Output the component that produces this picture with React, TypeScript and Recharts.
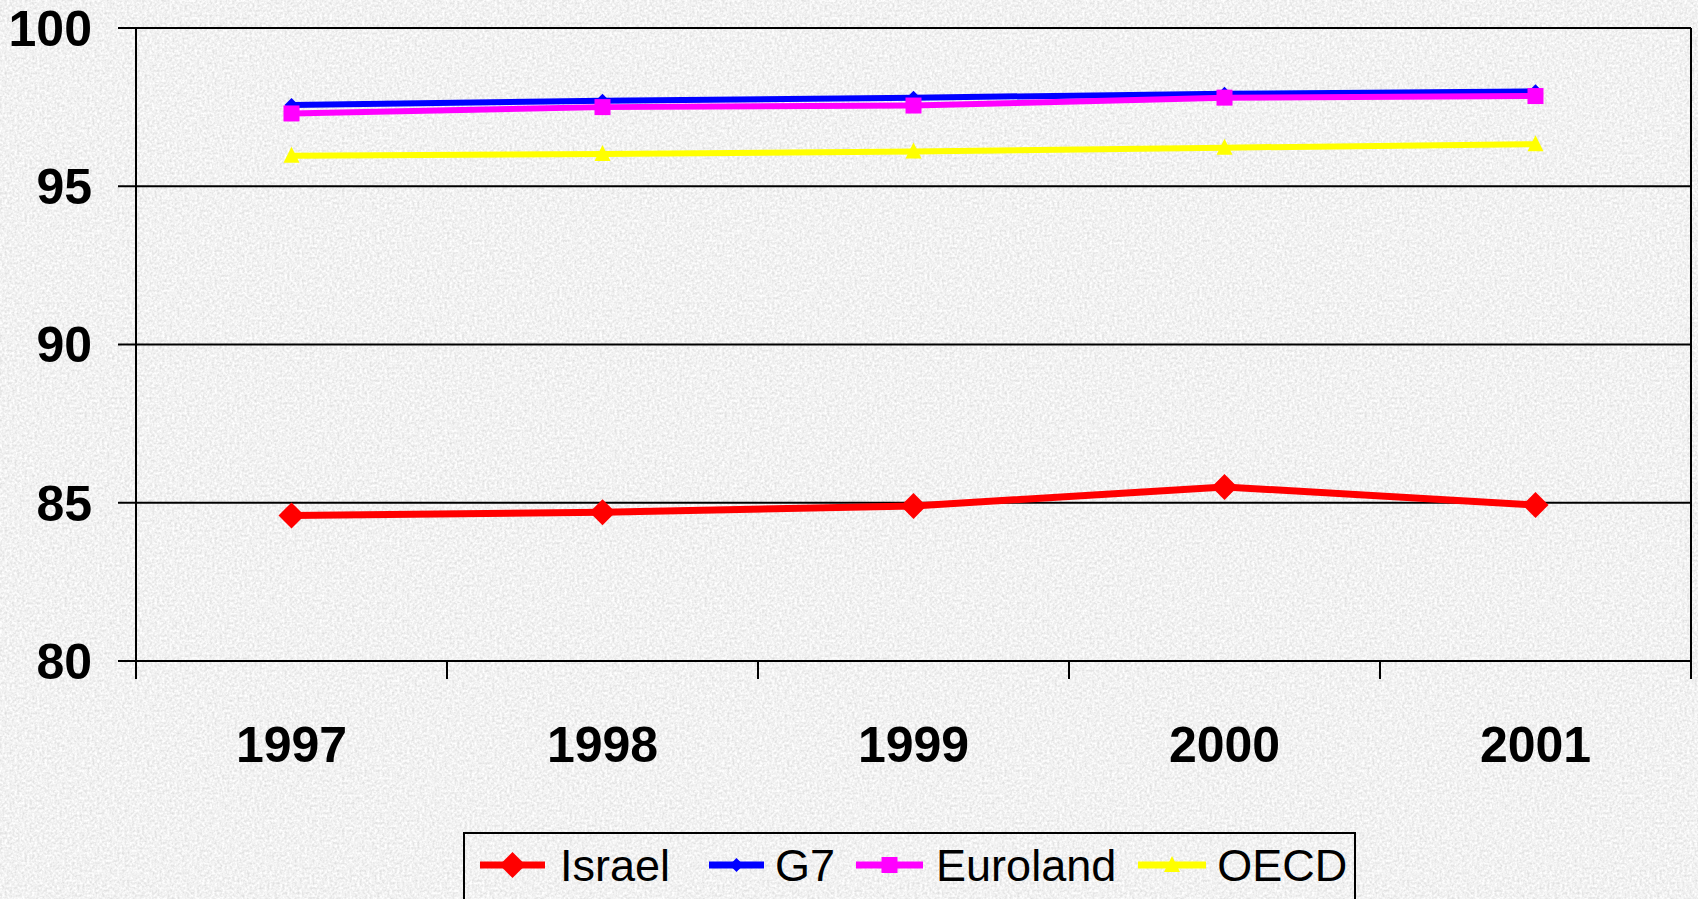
import React from "react";
import {
  LineChart, Line, XAxis, YAxis, CartesianGrid, Legend
} from "recharts";

const years = ["1997", "1998", "1999", "2000", "2001"];
const israel = [84.6, 84.7, 84.9, 85.5, 84.93];
const g7 = [97.57, 97.7, 97.8, 97.92, 98.0];
const euroland = [97.3, 97.5, 97.55, 97.8, 97.85];
const oecd = [95.96, 96.02, 96.1, 96.22, 96.33];
const yTicks = [80, 85, 90, 95, 100];

const data = years.map((year, i) => ({
  year,
  Israel: israel[i],
  G7: g7[i],
  Euroland: euroland[i],
  OECD: oecd[i],
}));

const W = 1698;
const H = 899;
const PLOT_LEFT = 136;
const PLOT_RIGHT = 1691;
const BAND = (PLOT_RIGHT - PLOT_LEFT) / years.length;
const FONT = '"Liberation Sans", Arial, sans-serif';

// Excel-style category ticks sit between the bands, not under the labels
const XTick = (props: any) => {
  const { x, y, payload, index } = props;
  const half = BAND / 2;
  return (
    <g>
      <line x1={x - half} x2={x - half} y1={y} y2={y + 18} stroke="#000" strokeWidth={2} />
      {index === years.length - 1 && (
        <line x1={x + half} x2={x + half} y1={y} y2={y + 18} stroke="#000" strokeWidth={2} />
      )}
      <text x={x} y={y + 84} textAnchor="middle" dominantBaseline="central"
        fontFamily={FONT} fontWeight="bold" fontSize={50} fill="#000">
        {payload.value}
      </text>
    </g>
  );
};

const diamond = (cx: number, cy: number, r: number) =>
  `M${cx},${cy - r}L${cx + r},${cy}L${cx},${cy + r}L${cx - r},${cy}Z`;

const BigDiamond = (p: any) => (
  <path key={`d-${p.index}`} d={diamond(p.cx, p.cy, 13)} fill="#ff0000" />
);
const SmallDiamond = (p: any) => (
  <path key={`s-${p.index}`} d={diamond(p.cx, p.cy, 7)} fill="#0000ff" />
);
const Square = (p: any) => (
  <rect key={`q-${p.index}`} x={p.cx - 8} y={p.cy - 8} width={16} height={16} fill="#ff00ff" />
);
const Triangle = (p: any) => (
  <path key={`t-${p.index}`}
    d={`M${p.cx},${p.cy - 9}L${p.cx + 8},${p.cy + 7}L${p.cx - 8},${p.cy + 7}Z`} fill="#ffff00" />
);

const legendItems = [
  { name: "Israel", color: "#ff0000", marker: "bigDiamond", icon: 65, pad: 15, gap: 39 },
  { name: "G7", color: "#0000ff", marker: "smallDiamond", icon: 55, pad: 11, gap: 21 },
  { name: "Euroland", color: "#ff00ff", marker: "square", icon: 67, pad: 13, gap: 22 },
  { name: "OECD", color: "#ffff00", marker: "triangle", icon: 68, pad: 11, gap: 0 },
];

const LegendIcon = ({ color, marker, w }: { color: string; marker: string; w: number }) => {
  const c = w / 2;
  return (
    <svg width={w} height={34} style={{ display: "block" }}>
      <line x1={0} x2={w} y1={17} y2={17} stroke={color} strokeWidth={7} />
      {marker === "bigDiamond" && <path d={diamond(c, 17, 13)} fill={color} />}
      {marker === "smallDiamond" && <path d={diamond(c, 17, 7)} fill={color} />}
      {marker === "square" && <rect x={c - 8} y={9} width={16} height={16} fill={color} />}
      {marker === "triangle" && <path d={`M${c},8L${c + 8},24L${c - 8},24Z`} fill={color} />}
    </svg>
  );
};

const renderLegend = () => (
  <div style={{
    boxSizing: "border-box", width: 893, height: 80, border: "2px solid #000",
    display: "flex", alignItems: "center", paddingLeft: 15, paddingBottom: 14,
    fontFamily: FONT, fontSize: 45, color: "#000", whiteSpace: "nowrap",
  }}>
    {legendItems.map((it) => (
      <div key={it.name} style={{ display: "flex", alignItems: "center", marginRight: it.gap }}>
        <LegendIcon color={it.color} marker={it.marker} w={it.icon} />
        <span style={{ marginLeft: it.pad, lineHeight: 1 }}>{it.name}</span>
      </div>
    ))}
  </div>
);

const Grain = () => (
  <svg width={W} height={H} style={{ position: "absolute", left: 0, top: 0 }}>
    <filter id="grain">
      <feTurbulence type="fractalNoise" baseFrequency="0.4" numOctaves={2} seed={4} />
      <feColorMatrix type="matrix"
        values="0.45 0 0 0 0.66  0.45 0 0 0 0.66  0.45 0 0 0 0.66  0 0 0 0 1" />
    </filter>
    <rect width={W} height={H} fill="#e4e4e4" />
    <rect width={W} height={H} filter="url(#grain)" />
  </svg>
);

export default function App() {
  return (
    <div style={{ position: "absolute", left: 0, top: 0, width: W, height: H, overflow: "hidden" }}>
      <Grain />
      <div style={{ position: "absolute", left: 0, top: 0 }}>
        <LineChart width={W} height={H} data={data}
          margin={{ top: 28, right: W - PLOT_RIGHT, left: 0, bottom: 88 }}>
          <CartesianGrid stroke="#000" strokeWidth={2}
            verticalCoordinatesGenerator={({ offset }: any) => [offset.left + offset.width]} />
          <XAxis dataKey="year" scale="band" height={150} interval={0}
            axisLine={{ stroke: "#000", strokeWidth: 2 }} tickLine={false}
            tickSize={0} tickMargin={0} tick={<XTick />} />
          <YAxis domain={[80, 100]} ticks={yTicks} width={PLOT_LEFT} interval={0}
            axisLine={{ stroke: "#000", strokeWidth: 2 }}
            tickLine={{ stroke: "#000", strokeWidth: 2 }} tickSize={18} tickMargin={26}
            tick={{ fontFamily: FONT, fontWeight: "bold", fontSize: 50, fill: "#000" }} />
          <Legend layout="horizontal" verticalAlign="middle" align="center"
            wrapperStyle={{ left: 463, top: 832, width: 893, height: 80 }}
            content={renderLegend} />
          <Line dataKey="Israel" stroke="#ff0000" strokeWidth={7} dot={BigDiamond}
            isAnimationActive={false} />
          <Line dataKey="G7" stroke="#0000ff" strokeWidth={6} dot={SmallDiamond}
            isAnimationActive={false} />
          <Line dataKey="Euroland" stroke="#ff00ff" strokeWidth={6} dot={Square}
            isAnimationActive={false} />
          <Line dataKey="OECD" stroke="#ffff00" strokeWidth={6} dot={Triangle}
            isAnimationActive={false} />
        </LineChart>
      </div>
    </div>
  );
}
